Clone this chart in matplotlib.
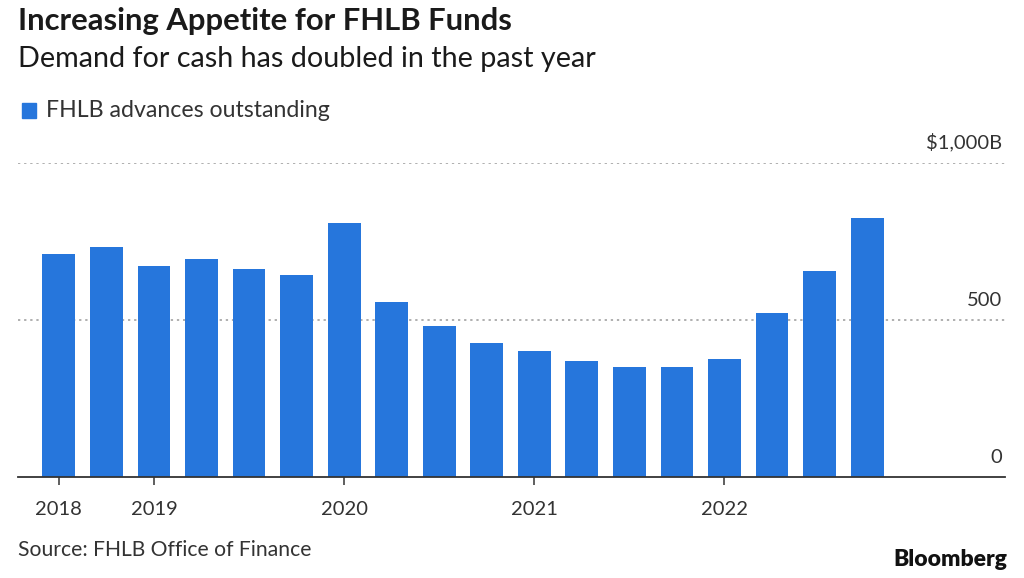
import matplotlib
matplotlib.use("Agg")
import matplotlib.pyplot as plt
from matplotlib.patches import Rectangle

# quarterly FHLB advances outstanding, $B
quarters = ["2018Q3", "2018Q4",
            "2019Q1", "2019Q2", "2019Q3", "2019Q4",
            "2020Q1", "2020Q2", "2020Q3", "2020Q4",
            "2021Q1", "2021Q2", "2021Q3", "2021Q4",
            "2022Q1", "2022Q2", "2022Q3", "2022Q4"]
advances = [709, 733, 673, 693, 662, 642, 808, 556, 481, 426,
            401, 371, 352, 352, 376, 521, 657, 823]
tick_quarters = ["2018Q3", "2019Q1", "2020Q1", "2021Q1", "2022Q1"]
tick_labels = ["2018", "2019", "2020", "2021", "2022"]
y_ticks = [0, 500, 1000]
y_tick_labels = ["0", "500", "$1,000B"]

BLUE = "#2676DC"
TEXT = "#1a1a1a"
FONT = ["Lato", "DejaVu Sans"]

plt.rcParams["font.family"] = FONT

fig = plt.figure(figsize=(10.24, 5.78), dpi=100)
ax = fig.add_axes([18/1024, 1-477.3/578, (1005-18)/1024, (477.3-162.7)/578])

x = list(range(len(quarters)))
ax.bar(x, advances, width=0.69, color=BLUE, zorder=2)

ax.set_xlim(-0.86, 19.9)
ax.set_ylim(0, 1000)

# dotted gridlines + right side labels
for v, lab in zip(y_ticks, y_tick_labels):
    if v > 0:
        ax.axhline(v, color="#9a9a9a", lw=1.1, ls=(0, (1.5, 2.5)), zorder=1)
    ax.annotate(lab, xy=(1, v), xycoords=("axes fraction", "data"),
                xytext=(-2, 8), textcoords="offset points",
                ha="right", va="bottom", fontsize=14.5, color="#333333")

for s in ["top", "right", "left"]:
    ax.spines[s].set_visible(False)
ax.spines["bottom"].set_color("#333333")
ax.spines["bottom"].set_linewidth(1.3)
ax.set_yticks([])

ax.set_xticks([quarters.index(q) for q in tick_quarters])
ax.set_xticklabels(tick_labels, fontsize=14.5, color="#333333")
ax.tick_params(axis="x", length=6, width=1.1, color="#333333", pad=11)

fig.text(18/1024, 1-21/578, "Increasing Appetite for FHLB Funds",
         fontsize=22.3, fontweight="bold", color=TEXT, va="center", ha="left")
fig.text(18/1024, 1-59/578, "Demand for cash has doubled in the past year",
         fontsize=20.7, color=TEXT, va="center", ha="left")

fig.patches.append(Rectangle((22/1024, 1-118/578), 14/1024, 15/578,
                             transform=fig.transFigure, color=BLUE))
fig.text(46/1024, 1-111/578, "FHLB advances outstanding",
         fontsize=16.7, color="#333333", va="center", ha="left")

fig.text(18/1024, 1-550/578, "Source: FHLB Office of Finance",
         fontsize=15.2, color="#333333", va="center", ha="left")
fig.text(1007/1024, 1-560/578, "Bloomberg", fontsize=16.5, fontweight="heavy",
         color="#111111", va="center", ha="right")

fig.savefig("out.png", dpi=100, facecolor="white")
